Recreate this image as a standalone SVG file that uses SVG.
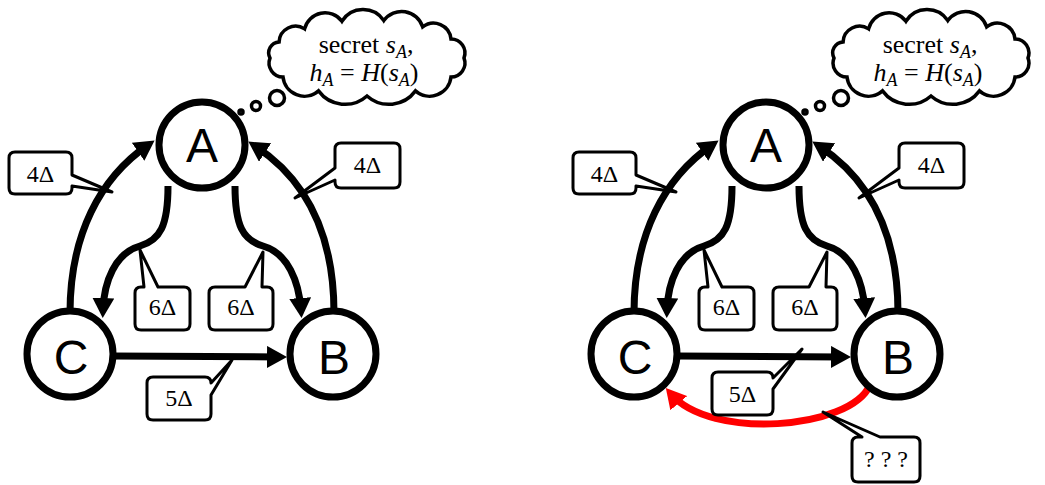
<svg xmlns="http://www.w3.org/2000/svg" width="1045" height="485" viewBox="0 0 1045 485">
  <style>
    .node circle { fill: #fff; stroke: #000; stroke-width: 7; }
    .node text { font-family: "Liberation Sans", Arial, sans-serif; font-size: 48px; text-anchor: middle; fill: #000; }
    .edge { fill: none; stroke: #000; stroke-width: 7; marker-end: url(#arr); }
    .edge.red { stroke: #ff0000; marker-end: url(#arrRed); }
    .callout path { fill: #fff; stroke: #000; stroke-width: 3; stroke-linejoin: round; }
    .callout text { font-family: "Liberation Serif", "Times New Roman", serif; font-size: 24px; text-anchor: middle; fill: #000; }
    .thought path, .thought circle { fill: #fff; stroke: #000; stroke-width: 3.5; }
    .thought text { font-family: "Liberation Serif", "Times New Roman", serif; font-size: 26px; text-anchor: middle; fill: #000; }
    .it { font-style: italic; }
    .sub { font-style: italic; font-size: 18px; }
  </style>
  <defs>
    <marker id="arr" viewBox="0 0 20 22" refX="12" refY="11" markerWidth="20" markerHeight="22" markerUnits="userSpaceOnUse" orient="auto">
      <path d="M0,0 L20,11 L0,22 Z" fill="#000"/>
    </marker>
    <marker id="arrRed" viewBox="0 0 20 22" refX="12" refY="11" markerWidth="20" markerHeight="22" markerUnits="userSpaceOnUse" orient="auto">
      <path d="M0,0 L20,11 L0,22 Z" fill="#ff0000"/>
    </marker>
    <!-- thought bubble: cloud outline, trailing dots and A's secret -->
    <g id="thoughtA" class="thought">
      <path d="M283,77 A14,14 0 0 1 270,58 A11,11 0 0 1 279.1,41.9 A16.5,16.5 0 0 1 304.6,28.9 A21,21 0 0 1 341.9,21.3 A25,25 0 0 1 383.8,20.6 A22,22 0 0 1 422.7,26.9 A17.5,17.5 0 0 1 451,39 A14,14 0 0 1 464,58 A14,14 0 0 1 451,77 A21.5,21.5 0 0 1 415.5,90.9 A33,33 0 0 1 367,96 A33,33 0 0 1 318.5,90.9 A21.5,21.5 0 0 1 283,77 Z"/>
      <circle cx="277" cy="98" r="7.5"/>
      <circle cx="256" cy="106" r="4.5"/>
      <circle cx="241" cy="112" r="2"/>
      <text x="366" y="53">secret <tspan class="it">s</tspan><tspan class="sub" dy="5">A</tspan><tspan dy="-5">,</tspan></text>
      <text x="364" y="81"><tspan class="it">h</tspan><tspan class="sub" dy="5">A</tspan><tspan dy="-5"> = </tspan><tspan class="it">H</tspan>(<tspan class="it">s</tspan><tspan class="sub" dy="5">A</tspan><tspan dy="-5">)</tspan></text>
    </g>
  </defs>

  <!-- ===== left: honest run ===== -->
  <g id="left">
    <g id="connectors">
      <path id="e-CA" class="edge" d="M70,313 C70,235 100,178 148,145"/>
      <path id="e-BA" class="edge" d="M334,313 C334,240 310,182 255,146"/>
      <path id="e-AC" class="edge" d="M168,186 C168,226 160,240 140,246 C115,253 104,282 103,310"/>
      <path id="e-AB" class="edge" d="M235,186 C235,226 243,240 263,246 C288,253 299,282 301,310"/>
      <path id="e-CB" class="edge" d="M113,356 L279,357"/>
    </g>
    <g id="nodeA" class="node"><circle cx="202" cy="145" r="43"/><text x="202" y="162">A</text></g>
    <g id="nodeB" class="node"><circle cx="333" cy="354" r="43"/><text x="334" y="374">B</text></g>
    <g id="nodeC" class="node"><circle cx="70" cy="354" r="43"/><text x="71" y="374">C</text></g>
    <g id="labels">
      <g class="callout"><path d="M15,152 H66 Q72,152 72,158 V175 L112,192 L72,186 V188 Q72,194 66,194 H15 Q9,194 9,188 V158 Q9,152 15,152 Z"/><text x="40.5" y="182">4Δ</text></g>
      <g class="callout"><path d="M341,143 H394 Q400,143 400,149 V182 Q400,188 394,188 H341 Q335,188 335,182 V180 L295,198 L335,168 V149 Q335,143 341,143 Z"/><text x="367.5" y="173">4Δ</text></g>
      <g class="callout"><path d="M141,287 H144 L140,250 L158,287 H184 Q190,287 190,293 V324 Q190,330 184,330 H141 Q135,330 135,324 V293 Q135,287 141,287 Z"/><text x="162.5" y="315">6Δ</text></g>
      <g class="callout"><path d="M215,287 H245 L263,252 L262,287 H267 Q273,287 273,293 V324 Q273,330 267,330 H215 Q209,330 209,324 V293 Q209,287 215,287 Z"/><text x="241" y="315">6Δ</text></g>
      <g class="callout"><path d="M153,377 H205 Q211,377 211,383 L232,360 L211,395 V414 Q211,420 205,420 H153 Q147,420 147,414 V383 Q147,377 153,377 Z"/><text x="179" y="406">5Δ</text></g>
    </g>
    <use href="#thoughtA"/>
  </g>

  <!-- ===== right: same graph, unknown return edge B to C ===== -->
  <g id="right" transform="translate(564,0)">
    <g id="connectors2">
      <path id="e2-CA" class="edge" d="M70,313 C70,235 100,178 148,145"/>
      <path id="e2-BA" class="edge" d="M334,313 C334,240 310,182 255,146"/>
      <path id="e2-AC" class="edge" d="M168,186 C168,226 160,240 140,246 C115,253 104,282 103,310"/>
      <path id="e2-AB" class="edge" d="M235,186 C235,226 243,240 263,246 C288,253 299,282 301,310"/>
      <path id="e2-CB" class="edge" d="M113,356 L279,357"/>
      <path id="e2-BC" class="edge red" d="M306,385 C286,430 146,440 107,394"/>
    </g>
    <g id="nodeA2" class="node"><circle cx="202" cy="145" r="43"/><text x="202" y="162">A</text></g>
    <g id="nodeB2" class="node"><circle cx="333" cy="354" r="43"/><text x="334" y="374">B</text></g>
    <g id="nodeC2" class="node"><circle cx="70" cy="354" r="43"/><text x="71" y="374">C</text></g>
    <g id="labels2">
      <g class="callout"><path d="M15,152 H66 Q72,152 72,158 V175 L112,192 L72,186 V188 Q72,194 66,194 H15 Q9,194 9,188 V158 Q9,152 15,152 Z"/><text x="40.5" y="182">4Δ</text></g>
      <g class="callout"><path d="M341,143 H394 Q400,143 400,149 V182 Q400,188 394,188 H341 Q335,188 335,182 V180 L295,198 L335,168 V149 Q335,143 341,143 Z"/><text x="367.5" y="173">4Δ</text></g>
      <g class="callout"><path d="M141,287 H144 L140,250 L158,287 H184 Q190,287 190,293 V324 Q190,330 184,330 H141 Q135,330 135,324 V293 Q135,287 141,287 Z"/><text x="162.5" y="315">6Δ</text></g>
      <g class="callout"><path d="M215,287 H245 L263,252 L262,287 H267 Q273,287 273,293 V324 Q273,330 267,330 H215 Q209,330 209,324 V293 Q209,287 215,287 Z"/><text x="241" y="315">6Δ</text></g>
      <g class="callout"><path d="M154,372 H203 Q209,372 209,378 L238,349 L209,389 V409 Q209,415 203,415 H154 Q148,415 148,409 V378 Q148,372 154,372 Z"/><text x="178.5" y="402">5Δ</text></g>
      <g class="callout"><path d="M294,437 H298 L259,412 L316,437 H350 Q356,437 356,443 V476 Q356,482 350,482 H294 Q288,482 288,476 V443 Q288,437 294,437 Z"/><text x="322" y="467">? ? ?</text></g>
    </g>
    <use href="#thoughtA"/>
  </g>
</svg>
